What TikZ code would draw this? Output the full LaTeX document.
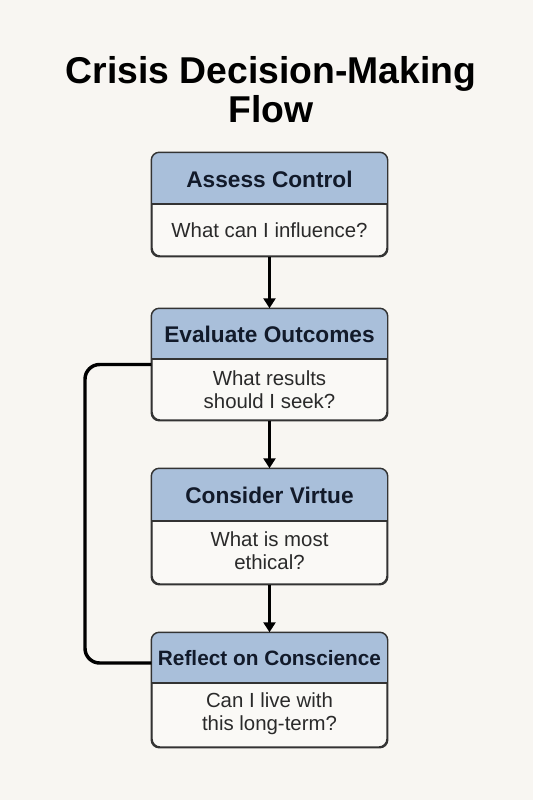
\documentclass[tikz,border=0pt]{standalone}
\usepackage{fontspec}
\setmainfont{Liberation Sans}
\usetikzlibrary{arrows.meta}
\definecolor{bgcol}{HTML}{F8F6F2}
\definecolor{headcol}{HTML}{A9BFDA}
\definecolor{bodycol}{HTML}{FAF9F6}
\definecolor{bordercol}{HTML}{333333}
\definecolor{headtextcol}{HTML}{121A2A}
\definecolor{bodytextcol}{HTML}{2A2A2A}
\tikzset{
  boxbody/.style={draw=bordercol, line width=1.1pt, fill=bodycol, rounded corners=6pt,
    minimum width=176.25pt, inner sep=0pt},
  boxline/.style={draw=bordercol, line width=1.1pt},
  headtext/.style={font=\bfseries\fontsize{17}{20}\selectfont, text=headtextcol, inner sep=0pt},
  bodytext/.style={font=\fontsize{15.3}{17.5}\selectfont, text=bodytextcol, align=center, inner sep=0pt},
  titletext/.style={font=\bfseries\fontsize{28}{30}\selectfont, text=black, anchor=base, inner sep=0pt},
  flowarrow/.style={line width=2.2pt, draw=black, -{Triangle[width=9pt,length=7.5pt]}},
  loopline/.style={line width=2.6pt, draw=black, rounded corners=11pt}
}
\begin{document}
\begin{tikzpicture}[x=0.75pt, y=-0.75pt]
\fill[bgcol] (0,0) rectangle (533,800);
\useasboundingbox (0,0) rectangle (533,800);

% title
\node[titletext] (t1) at (271,83) {Crisis Decision-Making};
\node[titletext] (t2) at (271,122) {Flow};

% box 1
\node[boxbody, minimum height=77.25pt] (b1) at (269.5,204.5) {};
\begin{scope}
  \clip[rounded corners=6pt] (b1.north west) rectangle (b1.south east);
  \fill[headcol] (152,153) rectangle (387,204);
\end{scope}
\draw[boxline] (152,204) -- (387,204);
\draw[boxline, rounded corners=6pt] (b1.north west) rectangle (b1.south east);
\node[headtext] (h1) at (269.5,179) {Assess Control};
\node[bodytext] (q1) at (269.5,230) {What can I influence?};

% box 2
\node[boxbody, minimum height=83.25pt] (b2) at (269.5,364.5) {};
\begin{scope}
  \clip[rounded corners=6pt] (b2.north west) rectangle (b2.south east);
  \fill[headcol] (152,309) rectangle (387,359);
\end{scope}
\draw[boxline] (152,359) -- (387,359);
\draw[boxline, rounded corners=6pt] (b2.north west) rectangle (b2.south east);
\node[headtext] (h2) at (269.5,334) {Evaluate Outcomes};
\node[bodytext] (q2) at (269.5,390) {What results\\should I seek?};

% box 3
\node[boxbody, minimum height=86.25pt] (b3) at (269.5,526.5) {};
\begin{scope}
  \clip[rounded corners=6pt] (b3.north west) rectangle (b3.south east);
  \fill[headcol] (152,469) rectangle (387,521);
\end{scope}
\draw[boxline] (152,521) -- (387,521);
\draw[boxline, rounded corners=6pt] (b3.north west) rectangle (b3.south east);
\node[headtext] (h3) at (269.5,495) {Consider Virtue};
\node[bodytext] (q3) at (269.5,551) {What is most\\ethical?};

% box 4
\node[boxbody, minimum height=85.5pt] (b4) at (269.5,690) {};
\begin{scope}
  \clip[rounded corners=6pt] (b4.north west) rectangle (b4.south east);
  \fill[headcol] (152,633) rectangle (387,683);
\end{scope}
\draw[boxline] (152,683) -- (387,683);
\draw[boxline, rounded corners=6pt] (b4.north west) rectangle (b4.south east);
\node[headtext, font=\bfseries\fontsize{15.6}{18}\selectfont] (h4) at (269.5,658) {Reflect on Conscience};
\node[bodytext] (q4) at (269.5,714) {Can I live with\\this long-term?};

% arrows
\draw[flowarrow] (b1.south) -- (b2.north);
\draw[flowarrow] (b2.south) -- (b3.north);
\draw[flowarrow] (b3.south) -- (b4.north);

% loop connector
\coordinate (lx) at (85,0);
\coordinate (b4h) at ([yshift=20.25pt]b4.west);
\draw[loopline] (b2.west) -- (b2.west -| lx) -- (lx |- b4h) -- (b4h);
\end{tikzpicture}
\end{document}
